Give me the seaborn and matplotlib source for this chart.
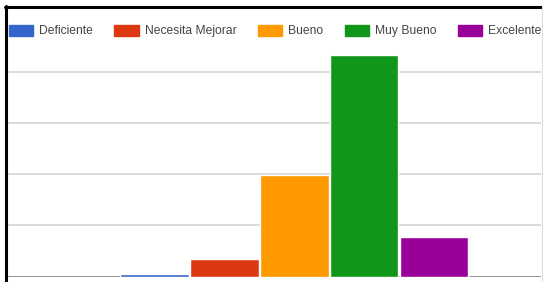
import matplotlib
matplotlib.use("Agg")
import matplotlib.pyplot as plt
import seaborn as sns
from matplotlib.patches import Patch
from matplotlib.lines import Line2D

# Datos
categorias = ["Deficiente", "Necesita Mejorar", "Bueno", "Muy Bueno", "Excelente"]
valores = [0.5, 3.5, 19.8, 43.3, 7.7]
colores = ["#3366cc", "#dc3912", "#ff9900", "#109618", "#990099"]
lineas_grid = [10, 20, 30, 40]

sns.set_style("white")
plt.rcParams["font.family"] = ["Liberation Sans Narrow", "Liberation Sans", "DejaVu Sans"]

W, H = 543, 282
fig = plt.figure(figsize=(W / 100, H / 100), dpi=100)
ax = fig.add_axes([8 / W, 1 - 276.5 / H, (541 - 8) / W, (276.5 - 21) / H])

sns.barplot(x=categorias, y=valores, hue=categorias, palette=colores,
            width=0.98, legend=False, ax=ax, saturation=1, zorder=3)

ax.set_xlim(-2.1, 5.53)
ax.set_ylim(0, 50)
ax.set_yticks(lineas_grid)
ax.yaxis.grid(True, color="#d4d4d4", linewidth=1.2)
ax.set_axisbelow(True)
ax.tick_params(left=False, bottom=False, labelleft=False, labelbottom=False)
ax.set_xlabel("")
ax.set_ylabel("")
for s in ax.spines.values():
    s.set_visible(False)
ax.axhline(0, color="#888888", linewidth=2, zorder=2)

# Leyenda superior
handles = [Patch(facecolor=c, edgecolor=c) for c in colores]
fig.legend(handles, categorias, loc="center left", bbox_to_anchor=(9 / W, 1 - 31 / H),
           ncol=5, frameon=False, fontsize=8.7, labelcolor="#444444",
           handlelength=2.0, handleheight=1.05, handletextpad=0.5,
           columnspacing=1.77, borderpad=0, borderaxespad=0)

# Marco de la imagen
fig.add_artist(Line2D([5.5 / W, 5.5 / W], [0, 1 - 6 / H], color="black", linewidth=2.2))
fig.add_artist(Line2D([4.5 / W, 541 / W], [1 - 6.5 / H, 1 - 6.5 / H], color="black", linewidth=2.2))
fig.add_artist(Line2D([541.5 / W, 541.5 / W], [0, 1 - 6 / H], color="#dddddd", linewidth=0.8))

fig.savefig("out.png", dpi=100)
